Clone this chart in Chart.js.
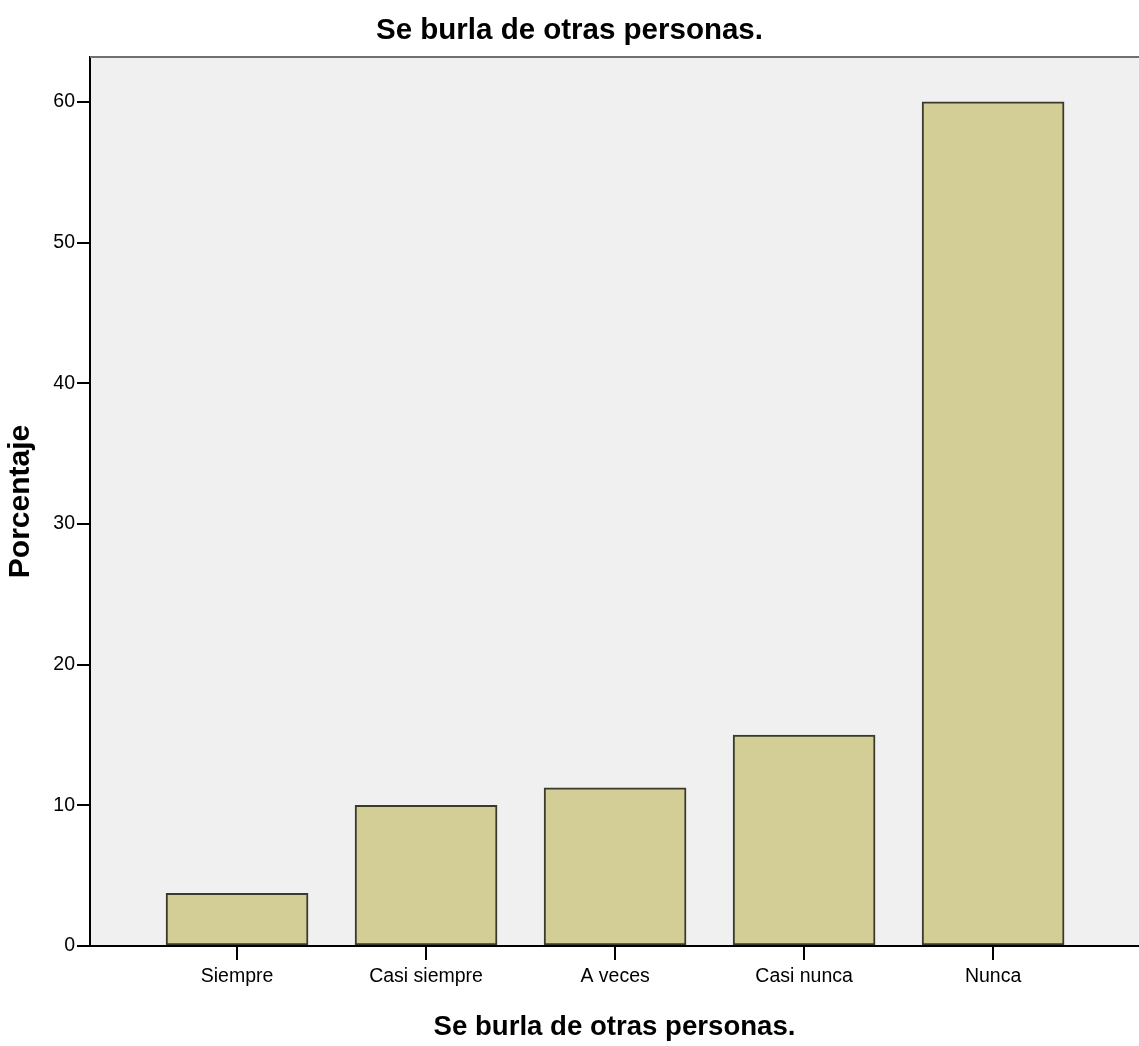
<!DOCTYPE html>
<html>
<head>
<meta charset="utf-8">
<script src="https://cdn.jsdelivr.net/npm/chart.js@4.4.1/dist/chart.umd.min.js"></script>
<style>
  html, body { margin: 0; padding: 0; background: #ffffff; }
  #wrap { width: 1139px; height: 1046px; position: relative; }
</style>
</head>
<body>
<div id="wrap"><canvas id="c" width="1139" height="1046"></canvas></div>
<script>
const chartTitle = 'Se burla de otras personas.';
const xAxisTitle = 'Se burla de otras personas.';
const yAxisTitle = 'Porcentaje';
const categories = ['Siempre', 'Casi siempre', 'A veces', 'Casi nunca', 'Nunca'];
const percentages = [3.75, 10.0, 11.25, 15.0, 60.0];
const yTicks = [0, 10, 20, 30, 40, 50, 60];

const points = categories.map((c, i) => ({ x: i, y: percentages[i] }));

const plotBg = {
  id: 'plotBg',
  beforeDraw(chart) {
    const { ctx, chartArea: a } = chart;
    ctx.save();
    ctx.fillStyle = '#f0f0f0';
    ctx.fillRect(a.left, a.top, a.right - a.left, a.bottom - a.top);
    ctx.restore();
  },
  afterDraw(chart) {
    const { ctx, chartArea: a } = chart;
    ctx.save();
    ctx.strokeStyle = '#707070';
    ctx.lineWidth = 2;
    ctx.beginPath();
    ctx.moveTo(a.left, a.top);
    ctx.lineTo(a.right, a.top);
    ctx.stroke();
    ctx.restore();
  }
};

new Chart(document.getElementById('c'), {
  type: 'bar',
  data: {
    datasets: [{
      data: points,
      backgroundColor: '#d2ce96',
      borderColor: '#3a3a2c',
      borderWidth: 2,
      borderSkipped: false,
      barThickness: 142
    }]
  },
  options: {
    responsive: false,
    animation: false,
    layout: { padding: { left: 0, right: 0, top: 0, bottom: 0 } },
    plugins: {
      legend: { display: false },
      tooltip: { enabled: false },
      title: {
        display: true,
        text: chartTitle,
        color: '#000',
        font: { family: '"Liberation Sans", Arial, sans-serif', size: 29.5, weight: 'bold' },
        padding: { top: 13, bottom: 8.5 }
      }
    },
    scales: {
      x: {
        type: 'linear',
        min: -0.778,
        max: 4.772,
        offset: false,
        afterBuildTicks(scale) {
          scale.ticks = categories.map((c, i) => ({ value: i }));
        },
        afterFit(scale) { scale.height = 100; },
        ticks: {
          includeBounds: false,
          autoSkip: false,
          maxRotation: 0,
          color: '#000',
          padding: 5,
          font: { family: '"Liberation Sans", Arial, sans-serif', size: 19.5 },
          callback: (v) => categories[v] ?? ''
        },
        grid: { display: true, offset: false, drawOnChartArea: false, drawTicks: true, tickLength: 14, color: '#000', lineWidth: 2 },
        border: { display: true, color: '#000', width: 2 },
        title: {
          display: true,
          text: xAxisTitle,
          color: '#000',
          font: { family: '"Liberation Sans", Arial, sans-serif', size: 27.6, weight: 'bold' },
          padding: { top: 0, bottom: 2.5 }
        }
      },
      y: {
        min: 0,
        max: 63.2,
        afterBuildTicks(scale) {
          scale.ticks = yTicks.map(v => ({ value: v }));
        },
        afterFit(scale) { scale.width = 90; },
        ticks: {
          includeBounds: false,
          color: '#000',
          padding: 2,
          font: { family: '"Liberation Sans", Arial, sans-serif', size: 19.5 }
        },
        grid: { display: true, drawOnChartArea: false, drawTicks: true, tickLength: 13, color: '#000', lineWidth: 2 },
        border: { display: true, color: '#000', width: 2 },
        title: {
          display: true,
          text: yAxisTitle,
          color: '#000',
          font: { family: '"Liberation Sans", Arial, sans-serif', size: 30, weight: 'bold' },
          padding: { top: 3, bottom: 0 }
        }
      }
    }
  },
  plugins: [plotBg]
});
</script>
</body>
</html>
